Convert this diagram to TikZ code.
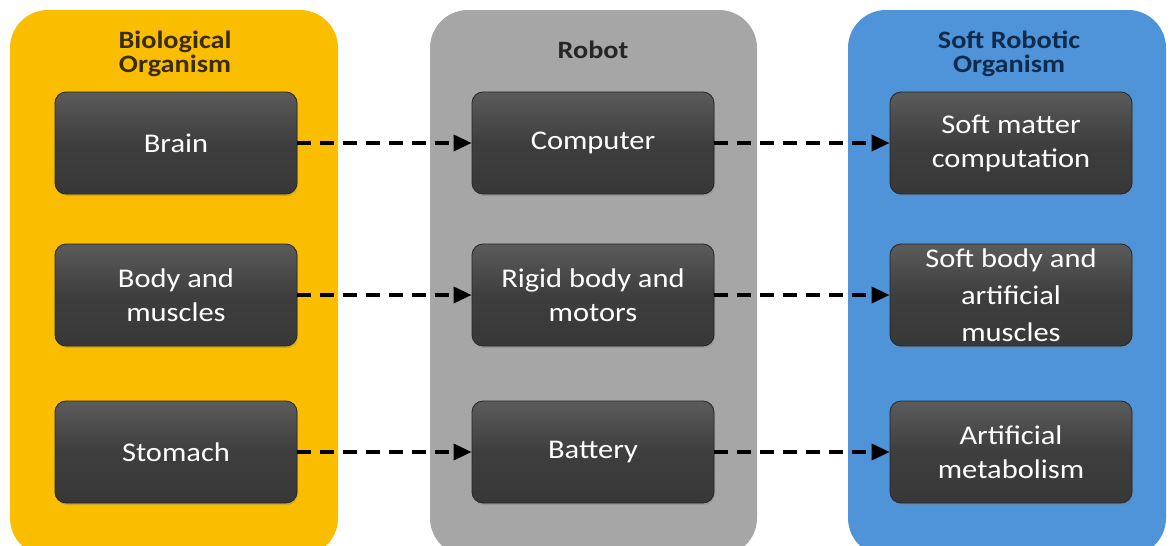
\documentclass[tikz,border=0pt]{standalone}
\usepackage{fontspec}
\setmainfont{Carlito}[FakeStretch=1.13]
\usetikzlibrary{arrows.meta,shadows}
\definecolor{panelY}{HTML}{FABD00}
\definecolor{panelG}{HTML}{A6A6A6}
\definecolor{panelB}{HTML}{4F93D8}
\definecolor{boxD}{HTML}{3E3E3E}
\definecolor{titleY}{HTML}{3A2C08}
\definecolor{titleB}{HTML}{0E2A4C}
\tikzset{
  panel/.style={rounded corners=38pt, draw=none},
  darkbox/.style={rounded corners=11pt, draw=black!85, line width=0.8pt,
    top color=boxD!85!white, bottom color=boxD!90!black, middle color=boxD,
    minimum width=242pt, minimum height=102pt, text=white, align=center,
    font=\fontsize{27}{34}\selectfont, drop shadow={opacity=0.35,shadow xshift=1pt,shadow yshift=-2pt}},
  ptitle/.style={font=\bfseries\fontsize{25}{24}\selectfont, align=center},
  link/.style={dashed, dash pattern=on 14pt off 9pt, line width=3.5pt, -{Triangle[length=18pt,width=16pt]}}
}
\begin{document}
\begin{tikzpicture}[x=1pt,y=-1pt]
\useasboundingbox (0,0) rectangle (1170,546);
\fill[white] (0,0) rectangle (1170,546);
% panels
\fill[panel, fill=panelY] (10,10) rectangle (338,556);
\fill[panel, fill=panelG] (430,10) rectangle (757,556);
\fill[panel, fill=panelB] (848,10) rectangle (1166,556);
\node[ptitle, text=titleY] (t1) at (175,54) {Biological\\Organism};
\node[ptitle, text=black!85] (t2) at (593,50) {Robot};
\node[ptitle, text=titleB] (t3) at (1009,54) {Soft Robotic\\Organism};
% boxes
\node[darkbox] (a1) at (176,143) {Brain};
\node[darkbox] (a2) at (176,295) {Body and\\muscles};
\node[darkbox] (a3) at (176,452) {Stomach};
\node[darkbox] (b1) at (593,143) {Computer};
\node[darkbox] (b2) at (593,295) {Rigid body and\\motors};
\node[darkbox] (b3) at (593,452) {Battery};
\node[darkbox] (c1) at (1011,143) {Soft matter\\computation};
\node[darkbox, font=\fontsize{27}{37}\selectfont] (c2) at (1011,295) {Soft body and\\artificial\\muscles};
\node[darkbox] (c3) at (1011,452) {Artificial\\metabolism};
% links
\foreach \i in {1,2,3}{
  \draw[link] (a\i.east) -- (b\i.west);
  \draw[link] (b\i.east) -- (c\i.west);
}
\end{tikzpicture}
\end{document}
